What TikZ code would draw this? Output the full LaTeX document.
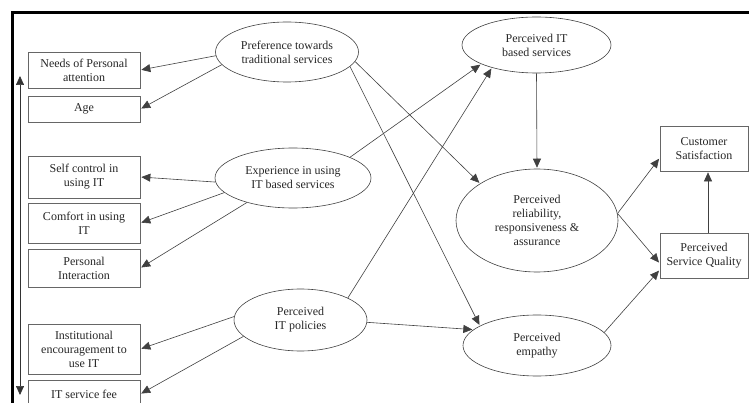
\documentclass[tikz,border=0pt]{standalone}
\usepackage{fontspec}
\setmainfont{Liberation Serif}
\usetikzlibrary{arrows.meta,shapes.geometric}

\begin{document}
\begin{tikzpicture}[x=1pt,y=-1pt,
  every node/.style={font=\fontsize{12}{14}\selectfont, text=black!85, align=center, inner sep=0pt},
  factor/.style={draw=black!60, line width=0.7pt, rectangle, minimum width=112pt},
  outcome/.style={draw=black!60, line width=0.7pt, rectangle, minimum width=88pt, minimum height=45pt},
  construct/.style={draw=black!75, line width=0.6pt, ellipse},
  link/.style={draw=black!75, line width=0.6pt, -{Triangle[length=9pt,width=8pt]}, shorten >=1pt},
  span/.style={draw=black!80, line width=0.7pt, {Triangle[length=9pt,width=8pt]}-{Triangle[length=9pt,width=8pt]}},
  frame/.style={draw=black, line width=3pt, line join=miter},
]
\useasboundingbox (0,0) rectangle (749,403);
\clip (0,0) rectangle (749,403);

% outer frame (top and left edges)
\draw[frame] (749,13) -- (12.5,13) -- (12.5,403);

% measured variables
\node[factor, minimum height=36pt] (needs)    at (84,70)  {Needs of Personal\\attention};
\node[factor, minimum height=26pt] (age)      at (84,109) {Age};
\node[factor, minimum height=42pt] (selfctl)  at (84,177) {Self control in\\using IT};
\node[factor, minimum height=40pt] (comfort)  at (84,223) {Comfort in using\\IT};
\node[factor, minimum height=38pt] (interact) at (84,268) {Personal\\Interaction};
\node[factor, minimum height=50pt] (inst)     at (84,349) {Institutional\\encouragement to\\use IT};
\node[factor, minimum height=28pt] (fee)      at (84,394) {IT service fee};

% latent constructs
\node[construct, minimum width=143pt, minimum height=60pt]  (pref) at (287,52)    {Preference towards\\traditional services};
\node[construct, minimum width=156pt, minimum height=60pt]  (exp)  at (293,178)   {Experience in using\\IT based services};
\node[construct, minimum width=133pt, minimum height=62pt]  (pol)  at (300.5,320) {Perceived\\IT policies};
\node[construct, minimum width=149pt, minimum height=56pt]  (itb)  at (536.5,45)  {Perceived IT\\based services};
\node[construct, minimum width=162pt, minimum height=103pt] (rel)  at (537,220.5) {Perceived\\reliability,\\responsiveness \&\\assurance};
\node[construct, minimum width=148pt, minimum height=61pt]  (emp)  at (537,345.5) {Perceived\\empathy};

% outcomes
\node[outcome] (cs) at (704,148.5) {Customer\\Satisfaction};
\node[outcome] (sq) at (704,255.5) {Perceived\\Service Quality};

% vertical span arrow along the left column
\coordinate (spantop) at (20,76);
\coordinate (spanbot) at (20,395);
\draw[span] (spanbot) -- (spantop);

% paths
\draw[link] (pref.183) -- (needs.east);
\draw[link] (pref.191) -- (age.east);
\draw[link] (pref.352) -- (rel.147);
\draw[link] (pref.347) -- (emp.161);

\draw[link] (exp.183) -- (selfctl.east);
\draw[link] (exp.192) -- (comfort.east);
\draw[link] (exp.208) -- (interact.east);
\draw[link] (exp.20)  -- (itb.199);

\draw[link] (pol.177) -- (inst.east);
\draw[link] (pol.196) -- (fee.east);
\draw[link] (pol.25)  -- (itb.207);
\draw[link] (pol.358) -- (emp.166);

\draw[link] (itb.south) -- (rel.north);
\draw[link] (rel.5)  -- (cs.192);
\draw[link] (rel.5)  -- (sq.190);
\draw[link] (emp.11) -- (sq.198);
\draw[link] ([xshift=4pt]sq.north) -- ([xshift=4pt]cs.south);
\end{tikzpicture}
\end{document}
